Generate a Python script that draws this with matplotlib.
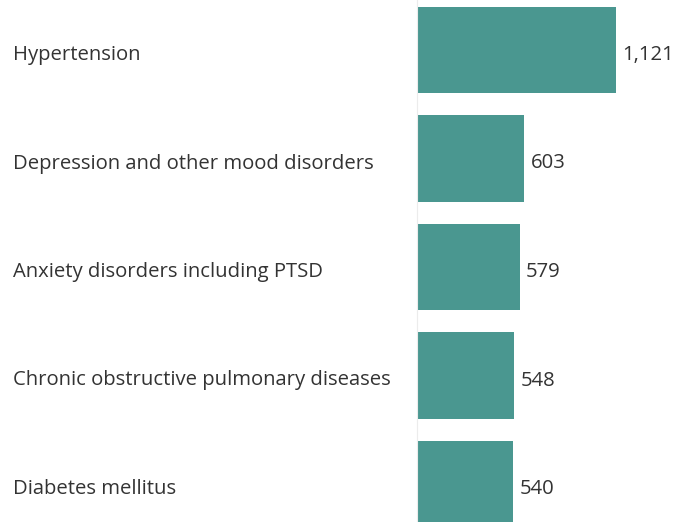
import matplotlib
matplotlib.use("Agg")
import matplotlib.pyplot as plt

categories = ["Hypertension", "Depression and other mood disorders",
              "Anxiety disorders including PTSD",
              "Chronic obstructive pulmonary diseases", "Diabetes mellitus"]
values = [1121, 603, 579, 548, 540]

plt.rcParams['font.family'] = ['Open Sans', 'DejaVu Sans']
W, H = 693, 522
fig = plt.figure(figsize=(W / 100, H / 100), dpi=100)
ax = fig.add_axes([417 / W, 0, 1 - 417 / W, 1])

color = "#4a9790"
pos = list(range(len(categories)))
ax.barh(pos, values, height=0.795, color=color)
ax.set_ylim(4.35, -0.461)
ax.set_xlim(0, 276 / (199 / 1121))
fs = 14.6
for p, v, in zip(pos, values):
    ax.text(v + 36, 1 - (60 + 108.5 * p) / H, f"{v:,}", va="baseline", ha="left",
            fontsize=fs, color="#333333",
            transform=ax.get_yaxis_transform().__class__(ax.transData, fig.transFigure))
for p, c in zip(pos, categories):
    ax.text(13 / W, 1 - (60 + 108.5 * p) / H, c, transform=fig.transFigure,
            va="baseline", ha="left", fontsize=fs, color="#333333")
for s in ["top", "right", "bottom"]:
    ax.spines[s].set_visible(False)
ax.spines["left"].set_color("#ececec")
ax.set_xticks([])
ax.set_yticks([])
fig.savefig("out.png", dpi=100)
